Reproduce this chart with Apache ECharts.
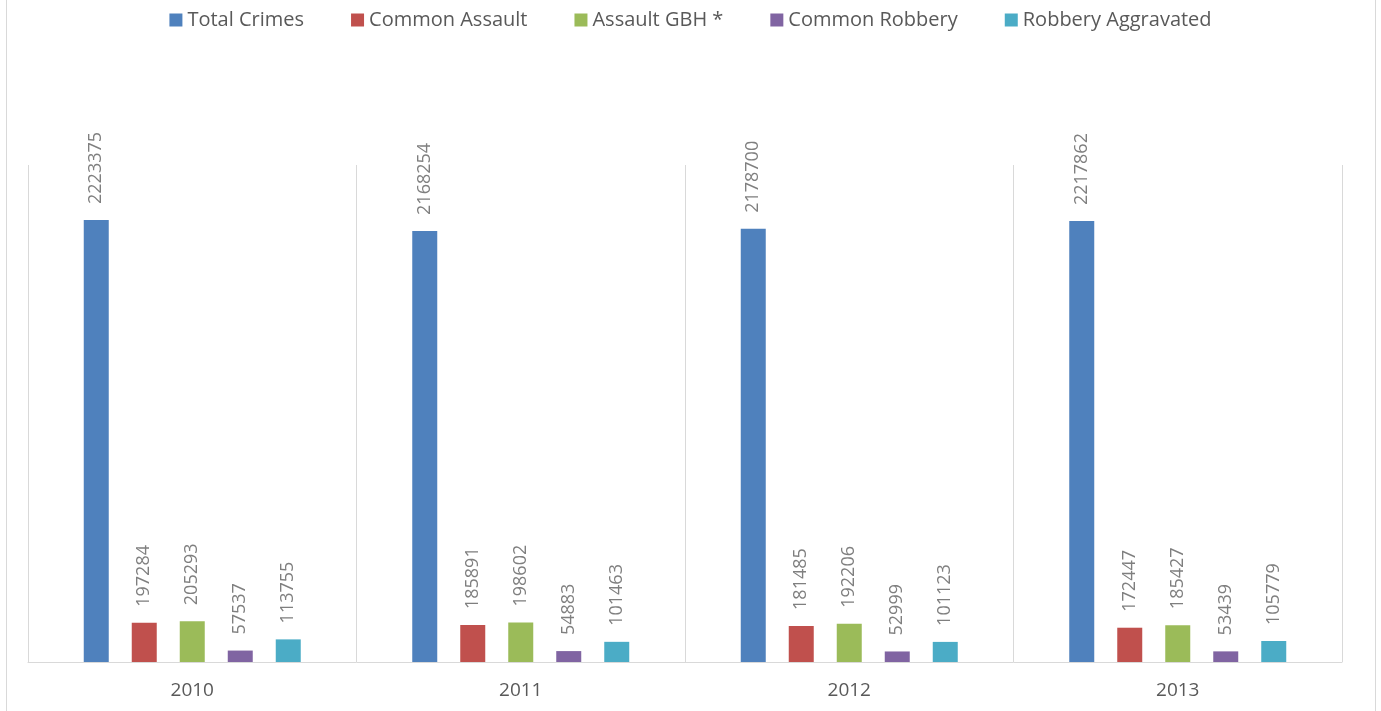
<!DOCTYPE html>
<html>
<head>
<meta charset="utf-8">
<script src="https://cdn.jsdelivr.net/npm/echarts@6/dist/echarts.min.js"></script>
<style>
  html, body { margin: 0; padding: 0; background: #fff; }
  #frame { position: absolute; left: 6px; top: -2px; width: 1370px; height: 720px; border: 1px solid #d9d9d9; box-sizing: border-box; }
  #chart { position: absolute; left: 0; top: 0; width: 1381px; height: 711px; }
</style>
</head>
<body>
<div id="frame"></div>
<div id="chart"></div>
<script>
const years = ['2010', '2011', '2012', '2013'];
const totalCrimes = [2223375, 2168254, 2178700, 2217862];
const commonAssault = [197284, 185891, 181485, 172447];
const assaultGBH = [205293, 198602, 192206, 185427];
const commonRobbery = [57537, 54883, 52999, 53439];
const robberyAggravated = [113755, 101463, 101123, 105779];

const seriesDefs = [
    { name: 'Total Crimes', data: totalCrimes, color: '#4f81bd' },
    { name: 'Common Assault', data: commonAssault, color: '#c0504d' },
    { name: 'Assault GBH *', data: assaultGBH, color: '#9bbb59' },
    { name: 'Common Robbery', data: commonRobbery, color: '#8064a2' },
    { name: 'Robbery Aggravated', data: robberyAggravated, color: '#4bacc6' },
];

const myChart = echarts.init(document.getElementById('chart'));
myChart.setOption({
    animation: false,
    textStyle: { fontFamily: 'Open Sans' },
    legend: {
        top: 5,
        left: 'center',
        itemWidth: 13,
        itemHeight: 13,
        itemGap: 47,
        icon: 'rect',
        textStyle: { color: '#595959', fontSize: 20, fontFamily: 'Open Sans' },
    },
    grid: { left: 28, right: 39, top: 165, bottom: 49 },
    xAxis: {
        type: 'category',
        data: years,
        axisTick: { show: false },
        axisLine: { lineStyle: { color: '#d9d9d9', width: 1 } },
        splitLine: { show: true, lineStyle: { color: '#d9d9d9', width: 1 } },
        axisLabel: { color: '#595959', fontSize: 19, margin: 19 },
    },
    yAxis: {
        type: 'value',
        min: 0,
        max: 2500000,
        show: false,
        splitLine: { show: false },
    },
    series: seriesDefs.map((s) => ({
        name: s.name,
        type: 'bar',
        data: s.data,
        barWidth: 25,
        barGap: '92%',
        itemStyle: { color: s.color },
        label: {
            show: true,
            position: 'top',
            rotate: 90,
            align: 'left',
            verticalAlign: 'middle',
            distance: 16,
            color: '#7f7f7f',
            fontSize: 18,
            fontFamily: 'Open Sans',
        },
    })),
});
</script>
</body>
</html>
